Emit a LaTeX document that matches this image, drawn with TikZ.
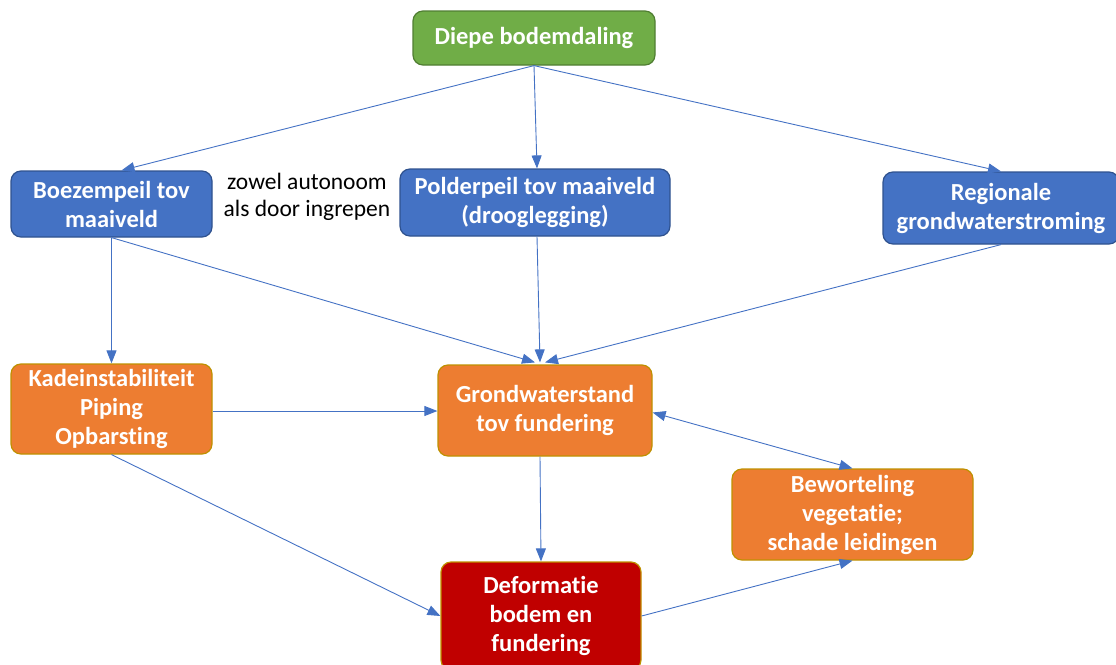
\documentclass[tikz,border=0pt]{standalone}
\usepackage{fontspec}
\setmainfont{Carlito}[Ligatures=NoCommon]
\usetikzlibrary{arrows.meta,calc}
\definecolor{gfill}{HTML}{70AD47}
\definecolor{gdraw}{HTML}{507E32}
\definecolor{bfill}{HTML}{4472C4}
\definecolor{bdraw}{HTML}{2F528F}
\definecolor{ofill}{HTML}{ED7D31}
\definecolor{odraw}{HTML}{BF9000}
\definecolor{rfill}{HTML}{C00000}
\definecolor{arr}{HTML}{4472C4}
\tikzset{
  box/.style={rounded corners=10pt, line width=1.2pt, inner sep=0pt, align=center,
    text=white, font=\fontsize{24.5}{29}\selectfont\bfseries},
  greenbox/.style={box, fill=gfill, draw=gdraw},
  bluebox/.style={box, fill=bfill, draw=bdraw},
  orangebox/.style={box, fill=ofill, draw=odraw},
  redbox/.style={box, fill=rfill, draw=odraw},
  conn/.style={draw=arr, line width=0.9pt, -{Triangle[length=13pt,width=10pt]}},
  biconn/.style={draw=arr, line width=0.9pt, {Triangle[length=13pt,width=10pt]}-{Triangle[length=13pt,width=10pt]}},
  notetext/.style={align=center, font=\fontsize{23.5}{27}\selectfont, inner sep=0pt}
}
\begin{document}
\begin{tikzpicture}[x=1pt,y=-1pt]
\useasboundingbox (0,0) rectangle (1116,664);
\node[greenbox, minimum width=242pt, minimum height=54pt] (diepe) at (534,38) {Diepe bodemdaling};
\node[bluebox, minimum width=201pt, minimum height=66pt] (boez) at (111.5,204) {Boezempeil tov\\maaiveld};
\node[bluebox, minimum width=270pt, minimum height=67pt] (polder) at (535,202.5) {Polderpeil tov maaiveld\\(drooglegging)};
\node[bluebox, minimum width=236pt, minimum height=72pt] (regio) at (1001,208) {Regionale\\grondwaterstroming};
\node[orangebox, minimum width=201pt, minimum height=90pt] (kade) at (111.5,409) {Kadeinstabiliteit\\Piping\\Opbarsting};
\node[orangebox, minimum width=214pt, minimum height=91pt] (grond) at (545,410.5) {Grondwaterstand\\tov fundering};
\node[orangebox, minimum width=241pt, minimum height=91pt] (bew) at (852.5,514.5) {Beworteling\\vegetatie;\\schade leidingen};
\node[redbox, minimum width=200pt, minimum height=108pt] (deform) at (541,616) {Deformatie\\bodem en\\fundering};
\node[notetext] (note) at (307,197) {zowel autonoom\\als door ingrepen};

\coordinate (k1) at ($(kade.east)+(0,2)$);
\draw[conn] (diepe.south) -- ($(boez.north)+(10,0)$);
\draw[conn] (diepe.south) -- ($(polder.north)+(2,0)$);
\draw[conn] (diepe.south) -- (regio.north);
\draw[conn] (boez.south) -- (kade.north);
\draw[conn] (boez.south) -- ($(grond.north)+(-10,-2)$);
\draw[conn] ($(polder.south)+(2,0)$) -- ($(grond.north)+(-5,-2)$);
\draw[conn] (regio.south) -- ($(grond.north)+(0,-2)$);
\draw[conn] (k1) -- (k1 -| grond.west);
\draw[conn] (kade.south) -- (deform.west);
\draw[conn] ($(grond.south)+(-5,0)$) -- (deform.north);
\draw[conn] (deform.east) -- (bew.south);
\draw[biconn] ($(grond.east)+(0,2)$) -- (bew.north);
\end{tikzpicture}
\end{document}
